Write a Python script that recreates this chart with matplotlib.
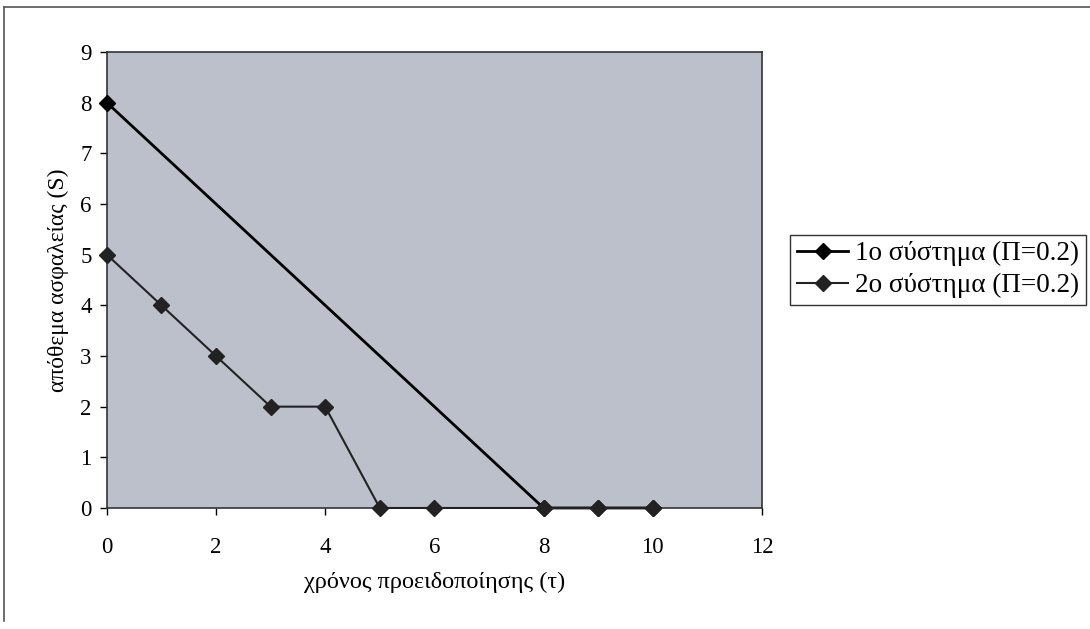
import matplotlib
matplotlib.use("Agg")
import matplotlib.pyplot as plt
from matplotlib.lines import Line2D

x1 = [0, 8, 9, 10]
y1 = [8, 0, 0, 0]
x2 = [0, 1, 2, 3, 4, 5, 6, 8, 9, 10]
y2 = [5, 4, 3, 2, 2, 0, 0, 0, 0, 0]
labels = ["1ο σύστημα (Π=0.2)", "2ο σύστημα (Π=0.2)"]
xticks = [0, 2, 4, 6, 8, 10, 12]
yticks = [0, 1, 2, 3, 4, 5, 6, 7, 8, 9]

plt.rcParams['font.family'] = ['Liberation Serif', 'DejaVu Serif']

fig = plt.figure(figsize=(10.9, 6.29), dpi=100)
ax = fig.add_axes([0.098, 0.1924, 0.601, 0.725])
ax.set_facecolor('#bcc0cb')

ax.plot(x1, y1, color='black', lw=2, marker='D', markersize=8, label=labels[0], clip_on=False, zorder=3)
ax.plot(x2, y2, color='#222222', lw=1.5, marker='D', markersize=8, label=labels[1], clip_on=False, zorder=3)

ax.set_xlim(0, 12)
ax.set_ylim(0, 9)
ax.set_xticks(xticks)
ax.set_yticks(yticks)
ax.tick_params(axis='both', direction='out', labelsize=16.5, length=5, width=1)
ax.tick_params(axis='x', pad=16)
ax.tick_params(axis='y', pad=6)
for s in ax.spines.values():
    s.set_linewidth(1.2)
    s.set_color('#333333')

ax.set_xlabel("χρόνος προειδοποίησης (τ)", fontsize=17.5, labelpad=10)
ax.set_ylabel("απόθεμα ασφαλείας (S)", fontsize=17, labelpad=8)

leg = fig.legend(loc='center left', bbox_to_anchor=(0.725, 0.571), fontsize=19.5,
                 frameon=True, fancybox=False, edgecolor='black', handlelength=1.9,
                 borderpad=0.25, labelspacing=0.25, handletextpad=0.25, borderaxespad=0)
leg.get_frame().set_linewidth(1.0)

# outer frame
fig.add_artist(Line2D([0.004, 1.0], [0.989, 0.989], transform=fig.transFigure, color='#555555', lw=1.2))
fig.add_artist(Line2D([0.004, 0.004], [0.989, 0.012], transform=fig.transFigure, color='#555555', lw=1.2))

fig.savefig("out.png", dpi=100)
